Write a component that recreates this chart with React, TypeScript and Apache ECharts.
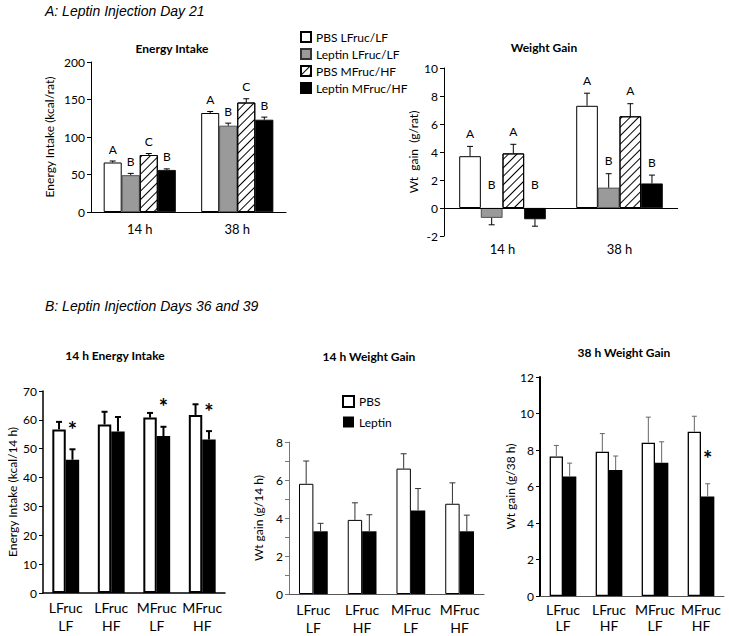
import React, { useEffect, useRef } from 'react';
import * as echarts from 'echarts';

const FONT = 'Lato, "Open Sans", sans-serif';
const TITLE_FONT = '"Liberation Sans", Arial, sans-serif';

// ---- Panel A data ----
const catsA = ['14 h', '38 h'];
const namesA = ['PBS LFruc/LF', 'Leptin LFruc/LF', 'PBS MFruc/HF', 'Leptin MFruc/HF'];
const energyA = [[66, 132], [49, 115], [76, 146], [56, 123]];
const energyAErr = [[2, 2], [2.5, 3.5], [2, 5], [1.5, 3.5]];
const energyALetters = [['A', 'A'], ['B', 'B'], ['C', 'C'], ['B', 'B']];
const weightA = [[3.7, 7.3], [-0.7, 1.45], [3.9, 6.55], [-0.8, 1.75]];
const weightAErr = [[0.7, 0.9], [0.5, 1.0], [0.65, 0.9], [0.5, 0.6]];
const weightALetters = [['A', 'A'], ['B', 'B'], ['A', 'A'], ['B', 'B']];

// ---- Panel B data ----
const catsB = ['LFruc\nLF', 'LFruc\nHF', 'MFruc\nLF', 'MFruc\nHF'];
const namesB = ['PBS', 'Leptin'];
const energy14PBS = [56.7, 58.4, 60.8, 61.7];
const energy14PBSErr = [2.6, 4.4, 1.6, 3.7];
const energy14Lep = [46.2, 56.0, 54.4, 53.2];
const energy14LepErr = [3.6, 5.0, 3.2, 2.9];
const energy14Stars = ['*', '', '*', '*'];
const wg14PBS = [5.8, 3.9, 6.6, 4.75];
const wg14PBSErr = [1.2, 0.9, 0.78, 1.1];
const wg14Lep = [3.3, 3.3, 4.4, 3.3];
const wg14LepErr = [0.42, 0.87, 1.15, 0.85];
const wg38PBS = [7.65, 7.9, 8.4, 9.0];
const wg38PBSErr = [0.6, 1.0, 1.4, 0.85];
const wg38Lep = [6.55, 6.9, 7.3, 5.45];
const wg38LepErr = [0.73, 0.77, 1.15, 0.7];
const wg38Stars = ['', '', '', '*'];

const hatch = {
  symbol: 'rect',
  symbolSize: 1,
  color: '#000',
  dashArrayX: [1, 0],
  dashArrayY: [1, 4.2],
  rotation: -Math.PI / 4,
};

const styleA = [
  { color: '#fff', borderColor: '#000', borderWidth: 1 },
  { color: '#9a9a9a', borderColor: '#333', borderWidth: 0.8 },
  { color: '#fff', borderColor: '#000', borderWidth: 1, decal: hatch },
  { color: '#000', borderColor: '#000', borderWidth: 0.8 },
];

function errSeries(
  axis: number,
  values: number[],
  errs: number[],
  k: number,
  n: number,
  frac: number,
  line: { color: string; width: number; cap: number },
  marks: string[] | null,
  mark: { size: number; weight: string; gap: number; negGap: number }
) {
  return {
    type: 'custom',
    xAxisIndex: axis,
    yAxisIndex: axis,
    silent: true,
    z: 5,
    data: values.map((v, i) => [i, v, errs[i]]),
    encode: { x: 0, y: 1 },
    renderItem: (params: any, api: any) => {
      const ci = api.value(0);
      const v = api.value(1);
      const e = api.value(2);
      const base = api.coord([ci, v]);
      const band = api.size([1, 0])[0];
      const bw = (band * frac) / n;
      const x = base[0] + (k - (n - 1) / 2) * bw;
      const endY = api.coord([ci, v >= 0 ? v + e : v - e])[1];
      const ls = { stroke: line.color, lineWidth: line.width };
      const children: any[] = [
        { type: 'line', shape: { x1: x, y1: base[1], x2: x, y2: endY }, style: ls },
        { type: 'line', shape: { x1: x - line.cap, y1: endY, x2: x + line.cap, y2: endY }, style: ls },
      ];
      const m = marks ? marks[params.dataIndex] : '';
      if (m) {
        const ty = v >= 0 ? endY - mark.gap : api.coord([ci, 0])[1] - mark.negGap;
        children.push({
          type: 'text',
          x,
          y: ty,
          style: {
            text: m,
            fontSize: mark.size,
            fontWeight: mark.weight,
            fontFamily: FONT,
            fill: '#000',
            align: 'center',
            verticalAlign: 'middle',
          },
        });
      }
      return { type: 'group', children };
    },
  };
}

function yAxisBase(gi: number, min: number, max: number, interval: number, name: string, nameGap: number, lineColor: string, lineWidth: number) {
  return {
    type: 'value',
    gridIndex: gi,
    min,
    max,
    interval,
    name,
    nameLocation: 'middle',
    nameGap,
    nameTextStyle: { fontSize: 12, color: '#000', fontFamily: FONT },
    axisLine: { show: true, lineStyle: { color: lineColor, width: lineWidth } },
    axisTick: { show: true, length: 4, lineStyle: { color: lineColor } },
    axisLabel: { fontSize: 12, color: '#000', fontFamily: FONT, margin: 6 },
    splitLine: { show: false },
  };
}

function xAxisBase(gi: number, data: string[], margin: number, lineHeight: number, fontSize: number, lineColor: string, lineWidth: number, showLine = true) {
  return {
    type: 'category',
    gridIndex: gi,
    data,
    axisLine: { show: showLine, onZero: false, lineStyle: { color: lineColor, width: lineWidth } },
    axisTick: { show: false },
    axisLabel: { fontSize, color: '#000', fontFamily: FONT, margin, lineHeight, interval: 0 },
    splitLine: { show: false },
  };
}

export default function App() {
  const ref = useRef<HTMLDivElement>(null);
  useEffect(() => {
    if (!ref.current) return;
    const chart = echarts.init(ref.current, undefined, { renderer: 'svg' });
    const series: any[] = [];

    const gapA = '26%';
    const fracA = 0.74;
    // A1 energy
    namesA.forEach((nm, k) => {
      series.push({
        type: 'bar', name: nm, xAxisIndex: 0, yAxisIndex: 0,
        data: energyA[k], barGap: '0%', barCategoryGap: gapA,
        itemStyle: styleA[k],
      });
    });
    namesA.forEach((nm, k) => {
      series.push(errSeries(0, energyA[k], energyAErr[k], k, 4, fracA,
        { color: '#000', width: 1, cap: 3 }, energyALetters[k],
        { size: 12, weight: 'normal', gap: 12, negGap: 24 }));
    });
    // A2 weight
    namesA.forEach((nm, k) => {
      const s: any = {
        type: 'bar', name: nm, xAxisIndex: 1, yAxisIndex: 1,
        data: weightA[k], barGap: '0%', barCategoryGap: gapA,
        itemStyle: styleA[k],
      };
      if (k === 0) {
        s.markLine = {
          silent: true, symbol: 'none', label: { show: false },
          lineStyle: { color: '#000', width: 1, type: 'solid' },
          data: [{ yAxis: 0 }],
        };
      }
      series.push(s);
    });
    namesA.forEach((nm, k) => {
      series.push(errSeries(1, weightA[k], weightAErr[k], k, 4, fracA,
        { color: '#000', width: 1, cap: 3 }, weightALetters[k],
        { size: 12, weight: 'normal', gap: 13, negGap: 24 }));
    });

    // B1 energy 14h
    const fracB1 = 0.59;
    series.push({
      type: 'bar', name: 'PBS', xAxisIndex: 2, yAxisIndex: 2, data: energy14PBS,
      barGap: '0%', barCategoryGap: '41%',
      itemStyle: { color: '#fff', borderColor: '#000', borderWidth: 2 },
    });
    series.push({
      type: 'bar', name: 'Leptin', xAxisIndex: 2, yAxisIndex: 2, data: energy14Lep,
      barGap: '0%', barCategoryGap: '41%',
      itemStyle: { color: '#000' },
    });
    series.push(errSeries(2, energy14PBS, energy14PBSErr, 0, 2, fracB1, { color: '#000', width: 2, cap: 3 }, null,
      { size: 22, weight: 'bold', gap: 20, negGap: 0 }));
    series.push(errSeries(2, energy14Lep, energy14LepErr, 1, 2, fracB1, { color: '#000', width: 2, cap: 3 }, energy14Stars,
      { size: 22, weight: 'bold', gap: 20, negGap: 0 }));

    // B2 weight 14h
    const fracB2 = 0.59;
    series.push({
      type: 'bar', name: 'PBS', xAxisIndex: 3, yAxisIndex: 3, data: wg14PBS,
      barGap: '0%', barCategoryGap: '41%',
      itemStyle: { color: '#fff', borderColor: '#000', borderWidth: 1 },
    });
    series.push({
      type: 'bar', name: 'Leptin', xAxisIndex: 3, yAxisIndex: 3, data: wg14Lep,
      barGap: '0%', barCategoryGap: '41%',
      itemStyle: { color: '#000' },
    });
    series.push(errSeries(3, wg14PBS, wg14PBSErr, 0, 2, fracB2, { color: '#333', width: 1, cap: 3 }, null,
      { size: 22, weight: 'bold', gap: 14, negGap: 0 }));
    series.push(errSeries(3, wg14Lep, wg14LepErr, 1, 2, fracB2, { color: '#333', width: 1, cap: 3 }, null,
      { size: 22, weight: 'bold', gap: 14, negGap: 0 }));

    // B3 weight 38h
    const fracB3 = 0.58;
    series.push({
      type: 'bar', name: 'PBS', xAxisIndex: 4, yAxisIndex: 4, data: wg38PBS,
      barGap: '0%', barCategoryGap: '42%',
      itemStyle: { color: '#fff', borderColor: '#000', borderWidth: 1.3 },
    });
    series.push({
      type: 'bar', name: 'Leptin', xAxisIndex: 4, yAxisIndex: 4, data: wg38Lep,
      barGap: '0%', barCategoryGap: '42%',
      itemStyle: { color: '#000' },
    });
    series.push(errSeries(4, wg38PBS, wg38PBSErr, 0, 2, fracB3, { color: '#666', width: 1, cap: 2.5 }, null,
      { size: 22, weight: 'bold', gap: 14, negGap: 0 }));
    series.push(errSeries(4, wg38Lep, wg38LepErr, 1, 2, fracB3, { color: '#666', width: 1, cap: 2.5 }, wg38Stars,
      { size: 22, weight: 'bold', gap: 25, negGap: 0 }));

    const titleText = (text: string, x: number, y: number) => ({
      type: 'text', x, y,
      style: { text, fontSize: 12, fontWeight: 'bold', fontFamily: FONT, fill: '#000', align: 'center', verticalAlign: 'middle' },
    });

    const option: any = {
      animation: false,
      backgroundColor: '#fff',
      grid: [
        { left: 91, top: 62, width: 195, height: 150 },
        { left: 444, top: 68, width: 234, height: 168 },
        { left: 43, top: 391, width: 182, height: 202 },
        { left: 289, top: 442, width: 195, height: 153 },
        { left: 540, top: 377, width: 184, height: 219 },
      ],
      xAxis: [
        xAxisBase(0, catsA, 9, 16, 13, '#000', 1),
        xAxisBase(1, catsA, 5, 16, 13, '#000', 1, false),
        xAxisBase(2, catsB, 5, 18, 14, '#000', 1.5),
        xAxisBase(3, catsB, 6, 18, 14, '#555', 1),
        xAxisBase(4, catsB, 5, 16, 14, '#555', 1),
      ],
      yAxis: [
        yAxisBase(0, 0, 200, 50, 'Energy Intake (kcal/rat)', 36, '#000', 1),
        yAxisBase(1, -2, 10, 2, 'Wt  gain  (g/rat)', 25, '#000', 1),
        yAxisBase(2, 0, 70, 10, 'Energy Intake (kcal/14 h)', 25, '#000', 1.5),
        Object.assign(yAxisBase(3, 0, 8, 2, 'Wt gain (g/14 h)', 25, '#777', 1), {
          minorTick: { show: true, splitNumber: 2, length: 4, lineStyle: { color: '#777' } },
        }),
        yAxisBase(4, 0, 12, 2, 'Wt gain (g/38 h)', 21, '#000', 2),
      ],
      legend: [
        {
          data: namesA, orient: 'vertical', left: 300, top: 31, padding: 0,
          itemWidth: 10, itemHeight: 10, itemGap: 5, icon: 'rect', selectedMode: false,
          textStyle: { fontSize: 12, color: '#000', fontFamily: FONT },
        },
        {
          data: namesB, orient: 'vertical', left: 342, top: 395, padding: 0,
          itemWidth: 11, itemHeight: 11, itemGap: 8, icon: 'rect', selectedMode: false,
          textStyle: { fontSize: 12, color: '#000', fontFamily: FONT },
        },
      ],
      graphic: [
        {
          type: 'text', left: 45, top: 4,
          style: { text: 'A: Leptin Injection Day 21', fontSize: 14, fontStyle: 'italic', fontFamily: TITLE_FONT, fill: '#000' },
        },
        {
          type: 'text', left: 45, top: 299,
          style: { text: 'B: Leptin Injection Days 36 and 39', fontSize: 14, fontStyle: 'italic', fontFamily: TITLE_FONT, fill: '#000' },
        },
        titleText('Energy Intake', 172, 48),
        titleText('Weight Gain', 544, 47),
        titleText('14 h Energy Intake', 115, 355),
        titleText('14 h Weight Gain', 369, 356),
        titleText('38 h Weight Gain', 624, 352),
      ],
      series,
    };
    chart.setOption(option);
    return () => chart.dispose();
  }, []);
  return <div ref={ref} style={{ position: 'absolute', left: 0, top: 0, width: 729, height: 636 }} />;
}
